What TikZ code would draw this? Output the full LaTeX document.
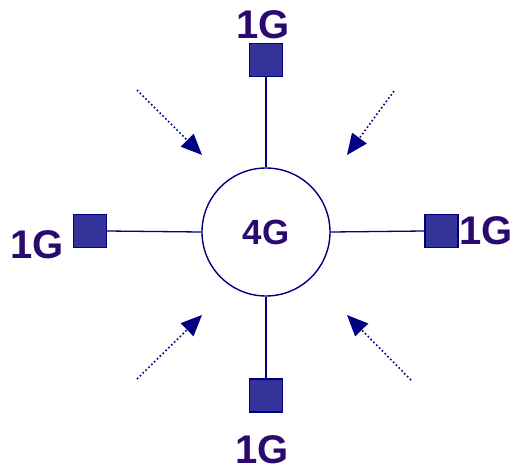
\documentclass[tikz,border=0pt]{standalone}
\usepackage{fontspec}
\setmainfont{Liberation Sans}
\usetikzlibrary{arrows.meta}
\definecolor{navy}{HTML}{000080}
\definecolor{portfill}{HTML}{333399}
\definecolor{labelink}{HTML}{2A0A6E}
\tikzset{
  hub/.style={circle, draw=navy, line width=1.4pt, minimum size=128pt, inner sep=0pt,
    font=\bfseries\fontsize{35}{35}\selectfont, text=labelink},
  port/.style={rectangle, draw=navy, fill=portfill, line width=1.3pt, minimum size=33pt, inner sep=0pt},
  portlabel/.style={font=\bfseries\fontsize{40}{40}\selectfont, text=labelink, inner sep=0pt},
  link/.style={draw=navy, line width=1.3pt},
  inflow/.style={draw=navy, line width=1.6pt, dash pattern=on 1.6pt off 2.4pt,
    -{Triangle[length=21pt,width=18pt]}},
}
\begin{document}
\begin{tikzpicture}[x=1pt,y=-1pt]
  \useasboundingbox (0,0) rectangle (517,472);
  % central hub and its four ports
  \node[hub] (hub) at (266,232) {4G};
  \node[port] (pn) at (266,60) {};
  \node[port] (pw) at (90,231) {};
  \node[port] (pe) at (441.5,231) {};
  \node[port] (ps) at (266,395.5) {};
  \node[portlabel] (ln) at (263,25) {1G};
  \node[portlabel] (lw) at (37,245) {1G};
  \node[portlabel] (le) at (486,231) {1G};
  \node[portlabel] (ls) at (262,450) {1G};
  % links from hub to ports
  \draw[link] (hub.north) -- (pn.south);
  \draw[link] (hub.west) -- (pw.east);
  \draw[link] (hub.east) -- (pe.west);
  \draw[link] (hub.south) -- (ps.north);
  % converging arrows
  \coordinate (anw) at (137,90);  \coordinate (tnw) at (202,155);
  \coordinate (ane) at (394,91);  \coordinate (tne) at (347,155);
  \coordinate (asw) at (137,379); \coordinate (tsw) at (202,315);
  \coordinate (ase) at (411,380); \coordinate (tse) at (347,315);
  \draw[inflow] (anw) -- (tnw);
  \draw[inflow] (ane) -- (tne);
  \draw[inflow] (asw) -- (tsw);
  \draw[inflow] (ase) -- (tse);
\end{tikzpicture}
\end{document}
